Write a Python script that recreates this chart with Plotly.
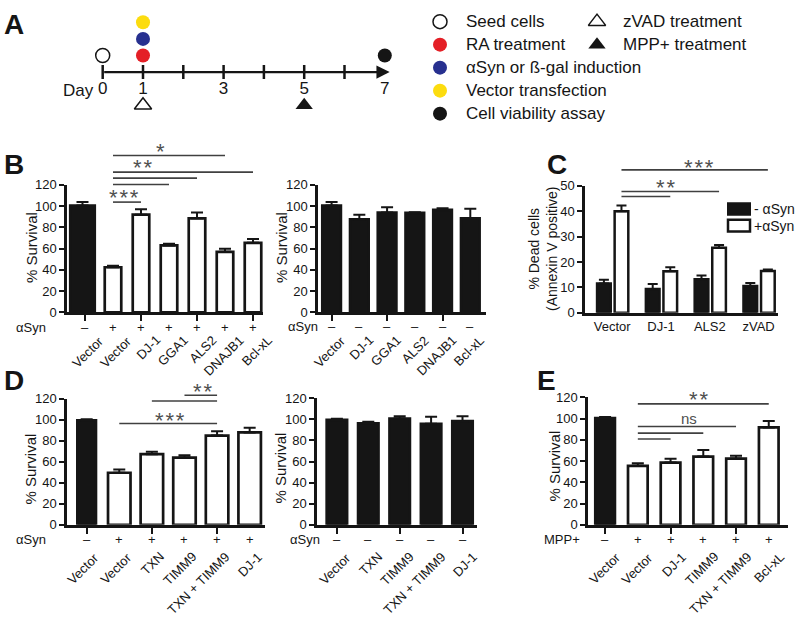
import plotly.graph_objects as go

W, H = 800, 619
FONT = "Liberation Sans, Arial, Helvetica, sans-serif"
INK = "#151515"
SIG = "#404040"

# ---------------- data ----------------
# Panel A: experimental timeline
timeline_ticks = [0, 1, 2, 3, 4, 5, 6]
timeline_label_days = [0, 1, 3, 5, 7]
timeline_labels = ["0", "1", "3", "5", "7"]
event_names = ["Seed cells", "RA treatment", "αSyn or ß-gal induction",
               "Vector transfection", "Cell viability assay",
               "zVAD treatment", "MPP+ treatment"]
event_days = [0, 1, 1, 1, 7, 1, 5]
event_rows = [1, 1, 2, 3, 1, -2, -2]
legend_cols = [0, 0, 0, 0, 0, 1, 1]
legend_rows = [0, 1, 2, 3, 4, 0, 1]

# Panel B left
b1_labels = ["Vector", "Vector", "DJ-1", "GGA1", "ALS2", "DNAJB1", "Bcl-xL"]
b1_signs = ["–", "+", "+", "+", "+", "+", "+"]
b1_means = [100.5, 42.5, 92.0, 63.0, 88.5, 57.0, 65.5]
b1_errs = [3.5, 1.5, 5.0, 1.5, 5.5, 3.0, 3.5]
b1_sig_lines = [(1, 5, 147.6), (1, 6, 132.0), (1, 4, 126.4), (1, 3, 120.3), (1, 2, 103.8)]
b1_sig_text = [("*", 2.7, 153), ("**", 2.05, 138), ("***", 1.4, 110)]

# Panel B right
b2_labels = ["Vector", "DJ-1", "GGA1", "ALS2", "DNAJB1", "Bcl-xL"]
b2_signs = ["–", "–", "–", "–", "–", "–"]
b2_means = [100.5, 87.5, 94.0, 93.7, 96.5, 88.5]
b2_errs = [3.5, 4.5, 5.0, 0.5, 1.5, 9.0]

# Panel C
c_groups = ["Vector", "DJ-1", "ALS2", "zVAD"]
c_minus = [11.5, 9.3, 13.2, 10.5]
c_minus_err = [1.5, 2.0, 1.5, 1.2]
c_plus = [40.0, 16.3, 25.6, 16.4]
c_plus_err = [2.3, 1.6, 1.1, 0.6]
c_series = ["- αSyn", "+αSyn"]
c_sig_lines = [(0, 3, 56.3), (0, 2, 47.8), (0, 1, 45.8)]
c_sig_text = [("***", 1.78, 58), ("**", 1.10, 50)]

# Panel D left
d1_labels = ["Vector", "Vector", "TXN", "TIMM9", "TXN + TIMM9", "DJ-1"]
d1_signs = ["–", "+", "+", "+", "+", "+"]
d1_means = [99.5, 49.6, 67.3, 64.0, 85.0, 88.0]
d1_errs = [1.0, 3.0, 2.2, 2.3, 4.0, 4.5]
d1_sig_lines = [(1, 4, 96.5), (2, 4, 117.9), (3, 4, 123.4)]
d1_sig_text = [("***", 2.56, 101), ("**", 3.54, 129)]

# Panel D right
d2_labels = ["Vector", "TXN", "TIMM9", "TXN + TIMM9", "DJ-1"]
d2_signs = ["–", "–", "–", "–", "–"]
d2_means = [99.5, 96.3, 100.8, 95.8, 98.3]
d2_errs = [1.0, 1.5, 2.2, 6.8, 4.7]

# Panel E
e_labels = ["Vector", "Vector", "DJ-1", "TIMM9", "TXN + TIMM9", "Bcl-xL"]
e_signs = ["–", "+", "+", "+", "+", "+"]
e_means = [100.5, 55.5, 58.6, 64.2, 62.4, 91.7]
e_errs = [1.0, 2.5, 3.7, 6.2, 2.5, 5.9]
e_sig_lines = [(1, 5, 113.8), (1, 4, 92.5), (1, 3, 86.3), (1, 2, 80.8)]
e_sig_text = [("**", 2.84, 120), ("ns", 2.56, 100)]

# ---------------- helpers ----------------
layout_axes = {}
traces = []
annotations = []
shapes = []


def axn(letter, n):
    return letter if n == 1 else f"{letter}{n}"


def xp(px):
    return px / W


def yp(py):
    return 1 - py / H


def add_axes(n, xpx, ypx, xrange, yrange, xextra=None, yextra=None):
    xk = "xaxis" if n == 1 else f"xaxis{n}"
    yk = "yaxis" if n == 1 else f"yaxis{n}"
    xa = dict(domain=[xp(xpx[0]), xp(xpx[1])], range=xrange, anchor=axn("y", n),
              showgrid=False, zeroline=False, fixedrange=True)
    ya = dict(domain=[yp(ypx[1]), yp(ypx[0])], range=yrange, anchor=axn("x", n),
              showgrid=False, zeroline=False, fixedrange=True)
    if xextra:
        xa.update(xextra)
    if yextra:
        ya.update(yextra)
    layout_axes[xk] = xa
    layout_axes[yk] = ya


def bar_axes(n, yaxis_px, xend_px, zero_px, top_px, c0, step, ymax, dtick, xticks=True):
    xr = [(yaxis_px - c0) / step, (xend_px - c0) / step]
    xextra = dict(showline=True, linewidth=2.5, linecolor=INK,
                  showticklabels=False, ticks="outside" if xticks else "",
                  ticklen=6, tickwidth=2, tickcolor=INK)
    yextra = dict(showline=True, linewidth=2.5, linecolor=INK, ticks="outside",
                  tickvals=list(range(0, ymax + 1, dtick)), ticklen=5, tickwidth=2,
                  tickcolor=INK, tickfont=dict(size=13, color=INK, family=FONT))
    add_axes(n, (yaxis_px, xend_px), (top_px, zero_px), xr, [0, ymax], xextra, yextra)


def bars(n, means, errs, fills, widths, offsets=None):
    idx = list(range(len(means)))
    if offsets is None:
        offsets = [-w / 2 for w in widths]
    traces.append(go.Bar(x=idx, y=means, width=widths, offset=offsets,
                         marker=dict(color=fills, line=dict(color=INK, width=2.7)),
                         error_y=dict(type="data", symmetric=False, array=errs,
                                      arrayminus=[0] * len(errs), color=INK, thickness=2, width=6),
                         xaxis=axn("x", n), yaxis=axn("y", n), hoverinfo="skip"))


def label_rows(n, labels, signs, sign_y, row_label, row_label_right, lab_top, lab_dx):
    for i, s in enumerate(signs):
        annotations.append(dict(xref=axn("x", n), yref="paper", x=i, y=yp(sign_y), text=s,
                                showarrow=False, xanchor="center", yanchor="middle",
                                font=dict(size=13, color=INK)))
    annotations.append(dict(xref="paper", yref="paper", x=xp(row_label_right), y=yp(sign_y),
                            text=row_label, showarrow=False, xanchor="right", yanchor="middle",
                            font=dict(size=13, color=INK)))
    for i, lab in enumerate(labels):
        annotations.append(dict(xref=axn("x", n), yref="paper", x=i, xshift=lab_dx,
                                y=yp(lab_top), text=lab, textangle=-45, showarrow=False,
                                xanchor="right", yanchor="top", font=dict(size=13, color=INK)))


def sig(n, ymax, lines, texts, xoff=0.0):
    for (i, j, v) in lines:
        shapes.append(dict(type="line", xref=axn("x", n), yref=f"{axn('y', n)} domain",
                           x0=i + xoff, x1=j + xoff, y0=v / ymax, y1=v / ymax,
                           line=dict(color=SIG, width=1.6)))
    for (t, x, v) in texts:
        star = "*" in t
        shown = "\u200a".join(t) if star else t
        annotations.append(dict(xref=axn("x", n), yref=f"{axn('y', n)} domain", x=x, y=v / ymax,
                                text=shown, showarrow=False, xanchor="center", yanchor="middle",
                                yshift=-2 if star else 0,
                                font=dict(size=22 if star else 15, color="#505050")))


def ytitle(x_px, y_px, text, size=15):
    annotations.append(dict(xref="paper", yref="paper", x=xp(x_px), y=yp(y_px), text=text,
                            textangle=-90, showarrow=False, xanchor="center", yanchor="middle",
                            font=dict(size=size, color=INK)))


def panel_letter(x_px, y_px, letter):
    annotations.append(dict(xref="paper", yref="paper", x=xp(x_px), y=yp(y_px),
                            text=f"<b>{letter}</b>", showarrow=False, xanchor="center",
                            yanchor="middle", font=dict(size=28, color=INK)))


WHITE = "white"
BLACK = INK

# ---------------- Panel B left (axes 1) ----------------
bar_axes(1, 67, 263, 313, 182.3, 85, 28, 120, 20)
b1_w = [0.875] + [0.59] * 6
b1_off = [-0.527] + [-0.295] * 6
bars(1, b1_means, b1_errs, [BLACK] + [WHITE] * 6, b1_w, b1_off)
label_rows(1, b1_labels, b1_signs, 328, "αSyn", 48, 331, 25)
sig(1, 120, b1_sig_lines, b1_sig_text)
ytitle(31, 247, "% Survival")

# ---------------- Panel B right (axes 2) ----------------
bar_axes(2, 318, 486, 313, 182.3, 331.6, 27.74, 120, 20)
bars(2, b2_means, b2_errs, [BLACK] * 6, [0.67] * 6)
label_rows(2, b2_labels, b2_signs, 327, "αSyn", 320, 331, 20)
ytitle(281, 247, "% Survival")

# ---------------- Panel C (axes 3) ----------------
bar_axes(3, 585, 778, 313.3, 183.3, 612.2, 48.8, 50, 10, xticks=False)
layout_axes["xaxis3"].update(showticklabels=True, tickvals=list(range(4)), ticktext=c_groups,
                             tickfont=dict(size=13, color=INK, family=FONT))
traces.append(go.Bar(x=list(range(4)), y=c_minus, width=0.28, offset=-0.31, name=c_series[0],
                     marker=dict(color=BLACK, line=dict(color=INK, width=2.5)),
                     error_y=dict(type="data", symmetric=False, array=c_minus_err,
                                  arrayminus=[0] * 4, color=INK, thickness=2, width=5),
                     xaxis="x3", yaxis="y3", hoverinfo="skip"))
traces.append(go.Bar(x=list(range(4)), y=c_plus, width=0.28, offset=0.05, name=c_series[1],
                     marker=dict(color=WHITE, line=dict(color=INK, width=2.5)),
                     error_y=dict(type="data", symmetric=False, array=c_plus_err,
                                  arrayminus=[0] * 4, color=INK, thickness=2, width=5),
                     xaxis="x3", yaxis="y3", hoverinfo="skip"))
sig(3, 50, c_sig_lines, c_sig_text, xoff=0.19)
# legend for C
shapes.append(dict(type="rect", xref="paper", yref="paper", x0=xp(728), x1=xp(750),
                   y0=yp(213), y1=yp(201), fillcolor=BLACK, line=dict(color=INK, width=2)))
shapes.append(dict(type="rect", xref="paper", yref="paper", x0=xp(728), x1=xp(750),
                   y0=yp(230), y1=yp(218), fillcolor=WHITE, line=dict(color=INK, width=2.5)))
for txt, yy in zip(c_series, [207, 224]):
    annotations.append(dict(xref="paper", yref="paper", x=xp(752), y=yp(yy), text=txt,
                            showarrow=False, xanchor="left", yanchor="middle",
                            font=dict(size=14, color=INK)))
ytitle(543, 248, "% Dead cells<br>(Annexin V positive)", size=14)

# ---------------- Panel D left (axes 4) ----------------
bar_axes(4, 67, 265, 530.7, 401.5, 86.67, 32.6, 120, 20)
bars(4, d1_means, d1_errs, [BLACK] + [WHITE] * 5, [0.57] + [0.69] * 5)
label_rows(4, d1_labels, d1_signs, 546, "αSyn", 48, 553, 18)
sig(4, 120, d1_sig_lines, d1_sig_text)
ytitle(31, 474, "% Survival")

# ---------------- Panel D right (axes 5) ----------------
bar_axes(5, 317, 477, 530.7, 401.0, 336.9, 31.4, 120, 20)
bars(5, d2_means, d2_errs, [BLACK] * 5, [0.65] * 5)
label_rows(5, d2_labels, d2_signs, 546, "αSyn", 322, 553, 20)
ytitle(281, 473, "% Survival")

# ---------------- Panel E (axes 6) ----------------
bar_axes(6, 588, 788, 530.7, 400.0, 605.1, 32.73, 120, 20)
bars(6, e_means, e_errs, [BLACK] + [WHITE] * 5, [0.6] * 6)
label_rows(6, e_labels, e_signs, 546, "MPP+", 582, 553, 21)
sig(6, 120, e_sig_lines, e_sig_text)
ytitle(555, 471, "% Survival")

# ---------------- Panel A timeline (axes 7) ----------------
day0_px, day_px = 102.7, 40.3
row_px, line_py = 17.0, 66.7
add_axes(7, (40, 400), (0, 135),
         [(40 - day0_px) / day_px, (400 - day0_px) / day_px],
         [-(135 - line_py) / row_px, line_py / row_px],
         dict(visible=False), dict(visible=False))

ev_symbol = ["circle", "circle", "circle", "circle", "circle", "triangle-up", "triangle-up"]
ev_fill = ["white", "#e41f26", "#27308f", "#fcdc0f", "#151515", "white", "#151515"]
ev_size = [14, 14, 14, 14, 14, 15, 15]
ev_lw = [1.5, 0, 0, 0, 0, 1.5, 0]

annotations.append(dict(xref="x7", yref="y7", axref="x7", ayref="y7", x=7.12, y=0, ax=0, ay=0,
                        text="", showarrow=True, arrowhead=2, arrowsize=1.2, arrowwidth=2.2,
                        arrowcolor=INK, standoff=0, startstandoff=0))
traces.append(go.Scatter(x=timeline_ticks, y=[0] * len(timeline_ticks), mode="markers",
                         marker=dict(symbol="line-ns", size=10, opacity=1,
                                     line=dict(width=2.5, color=INK)),
                         xaxis="x7", yaxis="y7", hoverinfo="skip"))
traces.append(go.Scatter(x=event_days, y=event_rows, mode="markers",
                         marker=dict(symbol=ev_symbol, size=ev_size, color=ev_fill, opacity=1,
                                     line=dict(color=INK, width=ev_lw)),
                         xaxis="x7", yaxis="y7", hoverinfo="skip"))
traces.append(go.Scatter(x=timeline_label_days, y=[-1.08] * len(timeline_label_days), mode="text",
                         text=timeline_labels, textposition="middle center",
                         textfont=dict(size=17, color=INK, family=FONT),
                         xaxis="x7", yaxis="y7", hoverinfo="skip"))
annotations.append(dict(xref="x7", yref="y7", x=0, y=-1.08, xshift=-7, text="Day",
                        showarrow=False, xanchor="right", yanchor="middle",
                        font=dict(size=17, color=INK)))
panel_letter(14, 18, "A")

# ---------------- Panel A legend (axes 8) ----------------
col_px, row_step = 157.0, 23.57
add_axes(8, (420, 800), (0, 125),
         [(420 - 440) / col_px, (800 - 440) / col_px],
         [(125 - 15) / row_step, (0 - 15) / row_step],
         dict(visible=False), dict(visible=False))
traces.append(go.Scatter(x=legend_cols, y=legend_rows, mode="markers",
                         marker=dict(symbol=ev_symbol, size=ev_size, color=ev_fill, opacity=1,
                                     line=dict(color=INK, width=ev_lw)),
                         xaxis="x8", yaxis="y8", hoverinfo="skip"))
for name, c, r in zip(event_names, legend_cols, legend_rows):
    annotations.append(dict(xref="x8", yref="y8", x=c + 0.15, y=r, text=name, showarrow=False,
                            xanchor="left", yanchor="middle", font=dict(size=17, color=INK)))

panel_letter(14, 161, "B")
panel_letter(557, 161, "C")
panel_letter(14, 383, "D")
panel_letter(546, 383, "E")

fig = go.Figure(data=traces)
fig.update_layout(width=W, height=H, margin=dict(l=0, r=0, t=0, b=0),
                  paper_bgcolor="white", plot_bgcolor="white", showlegend=False,
                  font=dict(family=FONT, color=INK), barmode="overlay",
                  annotations=annotations, shapes=shapes, **layout_axes)
fig.write_html("out.html", post_script="document.body.style.margin='0px';",
               config={"displayModeBar": False})
